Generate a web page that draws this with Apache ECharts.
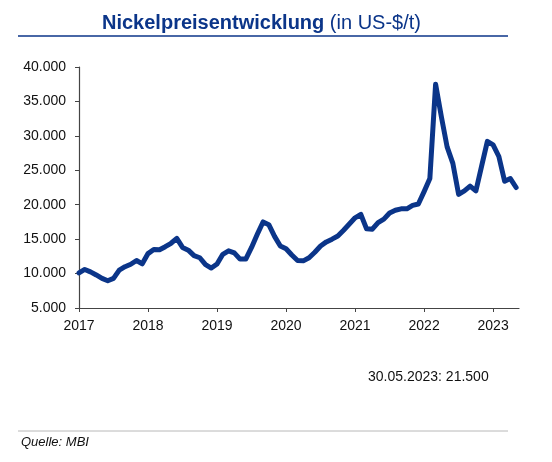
<!DOCTYPE html>
<html>
<head>
<meta charset="utf-8">
<script src="https://cdn.jsdelivr.net/npm/echarts@6/dist/echarts.min.js"></script>
<style>
  html, body { margin: 0; padding: 0; background: #fff; }
  #chart { width: 552px; height: 462px; }
</style>
</head>
<body>
<div id="chart"></div>
<script>
// Monatswerte Nickel (US-$/t), Jan 2017 .. Mai 2023
var startYear = 2017;
var prices = [
    10100, 10600, 10250, 9800, 9300, 8950, 9300, 10500, 11000, 11350, 11900, 11420,
    12900, 13500, 13450, 13900, 14400, 15100, 13800, 13400, 12600, 12300, 11300, 10800,
    11400, 12800, 13300, 13000, 12100, 12100, 13800, 15700, 17500, 17100, 15400, 14000,
    13600, 12700, 11900, 11850, 12300, 13100, 14000, 14600, 15000, 15450, 16300, 17200,
    18100, 18600, 16500, 16450, 17400, 17900, 18800, 19200, 19400, 19400, 19900, 20100,
    21900, 23800, 37500, 32800, 28400, 26000, 21500, 22000, 22700, 22000, 25600, 29200,
    28700, 27000, 23400, 23800, 22500
];
var yTicks = [5000, 10000, 15000, 20000, 25000, 30000, 35000, 40000];
var titleBold = 'Nickelpreisentwicklung';
var titleNormal = ' (in US-$/t)';
var noteText = '30.05.2023: 21.500';
var sourceText = 'Quelle: MBI';

var navy = '#0b3589';
var font = 'Arial, "Liberation Sans", sans-serif';

var seriesData = [];
for (var i = 0; i < prices.length; i++) {
    seriesData.push([i, prices[i]]);
}

function deNum(v) {
    return String(v).replace(/\B(?=(\d{3})+(?!\d))/g, '.');
}

var myChart = echarts.init(document.getElementById('chart'), null, {renderer: 'canvas'});
var option = {
    backgroundColor: '#fff',
    animation: false,
    graphic: [
        {type: 'text', left: 102, top: 13, style: {
            text: '{b|' + titleBold + '}{n|' + titleNormal + '}',
            rich: {
                b: {fontFamily: font, fontSize: 20, fontWeight: 'bold', fill: navy},
                n: {fontFamily: font, fontSize: 20, fontWeight: 'normal', fill: navy}
            }
        }},
        {type: 'line', shape: {x1: 18, y1: 36, x2: 508, y2: 36}, style: {stroke: navy, lineWidth: 1.3}},
        {type: 'line', shape: {x1: 18, y1: 431, x2: 508, y2: 431}, style: {stroke: '#b8b8b8', lineWidth: 1}},
        {type: 'text', left: 368, top: 370, style: {text: noteText, font: '14px ' + font, fill: '#111'}},
        {type: 'text', left: 21, top: 436, style: {text: sourceText, font: 'italic 13px ' + font, fill: '#111'}}
    ],
    grid: {left: 79, right: 33, top: 67, bottom: 154},
    xAxis: {
        type: 'value',
        min: 0, max: 76.5, interval: 12,
        axisLine: {lineStyle: {color: '#444', width: 1.2}},
        axisTick: {show: true, length: 4, lineStyle: {color: '#444'}},
        axisLabel: {
            color: '#111', fontFamily: font, fontSize: 14, margin: 11,
            showMaxLabel: false,
            formatter: function (v) { return String(startYear + v / 12); }
        },
        splitLine: {show: false}
    },
    yAxis: {
        type: 'value',
        min: yTicks[0], max: yTicks[yTicks.length - 1], interval: 5000,
        axisLine: {show: true, lineStyle: {color: '#444', width: 1.2}},
        axisTick: {show: true, length: 4, lineStyle: {color: '#444'}},
        axisLabel: {color: '#111', fontFamily: font, fontSize: 14, margin: 13, formatter: deNum},
        splitLine: {show: false}
    },
    series: [{
        type: 'line',
        data: seriesData,
        showSymbol: false,
        smooth: false,
        lineStyle: {color: navy, width: 5, join: 'round', cap: 'round'}
    }]
};
myChart.setOption(option);
</script>
</body>
</html>
